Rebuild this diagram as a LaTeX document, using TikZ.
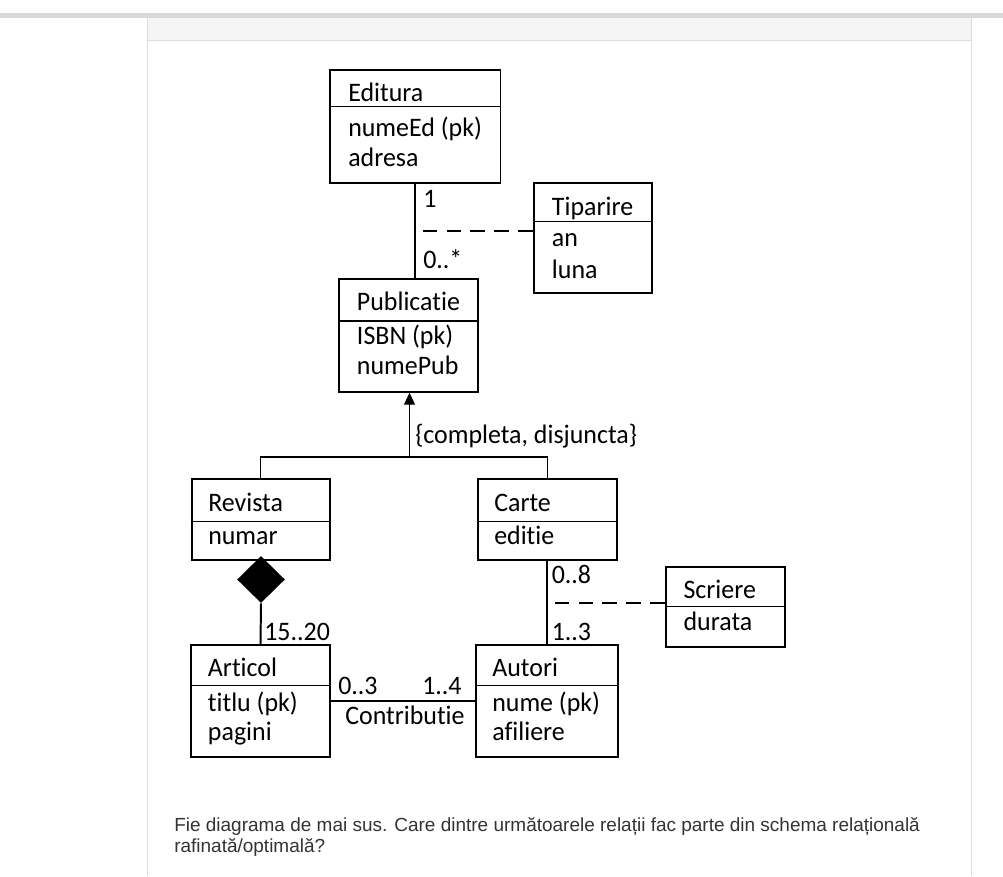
\documentclass[tikz,border=0pt]{standalone}
\usepackage{fontspec}
\setmainfont{Carlito}[FakeStretch=0.97, Ligatures=CommonOff]
\newfontfamily\questionfont{Liberation Sans}
\usetikzlibrary{arrows.meta,fit,shapes.geometric,calc}
\tikzset {>=Stealth}
\definecolor{bargray}{HTML}{D9D9D9}
\definecolor{panelgray}{HTML}{F5F5F5}
\definecolor{bordergray}{HTML}{DDDDDD}
\definecolor{qtext}{HTML}{333333}
\tikzset{
  box/.style={draw, line width=1.4pt, inner sep=0pt},
  sepline/.style={line width=0.8pt},
  txt/.style={anchor=base west, inner sep=0pt, font=\fontsize{19}{22}\selectfont},
  link/.style={line width=1.4pt},
  assoc/.style={line width=1.4pt, dash pattern=on 10.5pt off 6.5pt},
  genline/.style={line width=0.9pt},
  question/.style={anchor=base west, inner sep=0pt, text=qtext, font=\questionfont\fontsize{13.5}{15}\selectfont}
}

\begin{document}
\begin{tikzpicture}[x=0.025cm,y=-0.025cm]
\useasboundingbox (0,0) rectangle (1003,876);
% page frame
\fill[bargray] (0,13) rectangle (1003,17.7);
\fill[panelgray] (147,17.7) rectangle (971.5,40);
\draw[bordergray, line width=0.7pt] (147,40.5) -- (971.5,40.5);
\draw[bordergray, line width=0.7pt] (147,17.7) -- (147,876);
\draw[bordergray, line width=0.7pt] (971.5,17.7) -- (971.5,876);

% classes
\node[box, fit={(330,70) (500.5,182.7)}] (editura) {};
\draw[sepline] (editura.west |- 0,106.7) -- (editura.east |- 0,106.7);
\node[txt] (edT) at (348,101.7) {Editura};
\node[txt] (ed1) at (348,136) {numeEd (pk)};
\node[txt] (ed2) at (348,166) {adresa};

\node[box, fit={(534,183.3) (651.7,293)}] (tiparire) {};
\draw[sepline] (tiparire.west |- 0,221.7) -- (tiparire.east |- 0,221.7);
\node[txt] (tiT) at (551.7,215) {Tiparire};
\node[txt] (ti1) at (551.7,246.7) {an};
\node[txt] (ti2) at (551.7,278) {luna};

\node[box, fit={(339.3,279.3) (478.3,391.7)}] (publicatie) {};
\draw[sepline] (publicatie.west |- 0,321) -- (publicatie.east |- 0,321);
\node[txt] (puT) at (356.7,310.7) {Publicatie};
\node[txt] (pu1) at (356.7,344) {ISBN (pk)};
\node[txt] (pu2) at (356.7,374) {numePub};

\node[box, fit={(191.7,479.3) (330,560.3)}] (revista) {};
\draw[sepline] (revista.west |- 0,521.7) -- (revista.east |- 0,521.7);
\node[txt] (reT) at (208,511.7) {Revista};
\node[txt] (re1) at (208,544) {numar};

\node[box, fit={(477.7,479.3) (616.7,560.3)}] (carte) {};
\draw[sepline] (carte.west |- 0,521.7) -- (carte.east |- 0,521.7);
\node[txt] (caT) at (494,511.7) {Carte};
\node[txt] (ca1) at (494,544) {editie};

\node[box, fit={(191,645) (330,757)}] (articol) {};
\draw[sepline] (articol.west |- 0,685.7) -- (articol.east |- 0,685.7);
\node[txt] (arT) at (207.7,676.7) {Articol};
\node[txt] (ar1) at (207.7,711) {titlu (pk)};
\node[txt] (ar2) at (207.7,740) {pagini};

\node[box, fit={(475.6,645) (618,757)}] (autori) {};
\draw[sepline] (autori.west |- 0,685.7) -- (autori.east |- 0,685.7);
\node[txt] (auT) at (492,676.7) {Autori};
\node[txt] (au1) at (492,711) {nume (pk)};
\node[txt] (au2) at (492,740) {afiliere};

\node[box, fit={(666,567.3) (785,647.3)}] (scriere) {};
\draw[sepline] (scriere.west |- 0,606.7) -- (scriere.east |- 0,606.7);
\node[txt] (scT) at (683.3,598.3) {Scriere};
\node[txt] (sc1) at (683.3,630.7) {durata};

% Editura - Publicatie with Tiparire
\draw[link] (editura.south) -- (editura.south |- publicatie.north);
\coordinate (edpub) at ($(editura.south)!0.5!(editura.south |- publicatie.north)$);
\draw[assoc] (edpub -| tiparire.west) -- (edpub);
\node[txt] (m1) at (423,207.7) {1};
\node[txt] (m2) at (423,268) {0..*};

% generalization
\coordinate (gen) at (409.5,457);
\draw[genline] (revista.north) |- (gen) -| (carte.north);
\draw[line width=0.7pt,-{Triangle[width=7.8pt,length=8.5pt]}] (gen) -- (gen |- publicatie.south);
\node[txt] (cd) at (415,443) {\{completa, disjuncta\}};

% composition
\node[diamond, fill=black, inner sep=0pt, minimum width=34pt, minimum height=33.4pt] (comp) at (261,579.5) {};
\draw[link] (comp.south) -- (articol.north);
\node[txt] (m3) at (264,640) {15..20};

% Contributie
\draw[link] (articol.east) -- (autori.west);
\node[txt] (m4) at (338,694) {0..3};
\node[txt] (m5) at (422,694) {1..4};
\node[txt] (co) at (345,724) {Contributie};

% Carte - Autori with Scriere
\draw[link] (carte.south) -- (carte.south |- autori.north);
\coordinate (caau) at ($(carte.south)!0.5!(carte.south |- autori.north)$);
\draw[assoc] (caau -| scriere.west) -- (caau);
\node[txt] (m6) at (551.5,583) {0..8};
\node[txt] (m7) at (551.5,640.7) {1..3};

% question
\node[question] (q1) at (174,831.7) {Fie diagrama de mai sus. Care dintre următoarele relații fac parte din schema relațională};
\node[question] (q2) at (174,852) {rafinată/optimală?};
\end{tikzpicture}
\end{document}
